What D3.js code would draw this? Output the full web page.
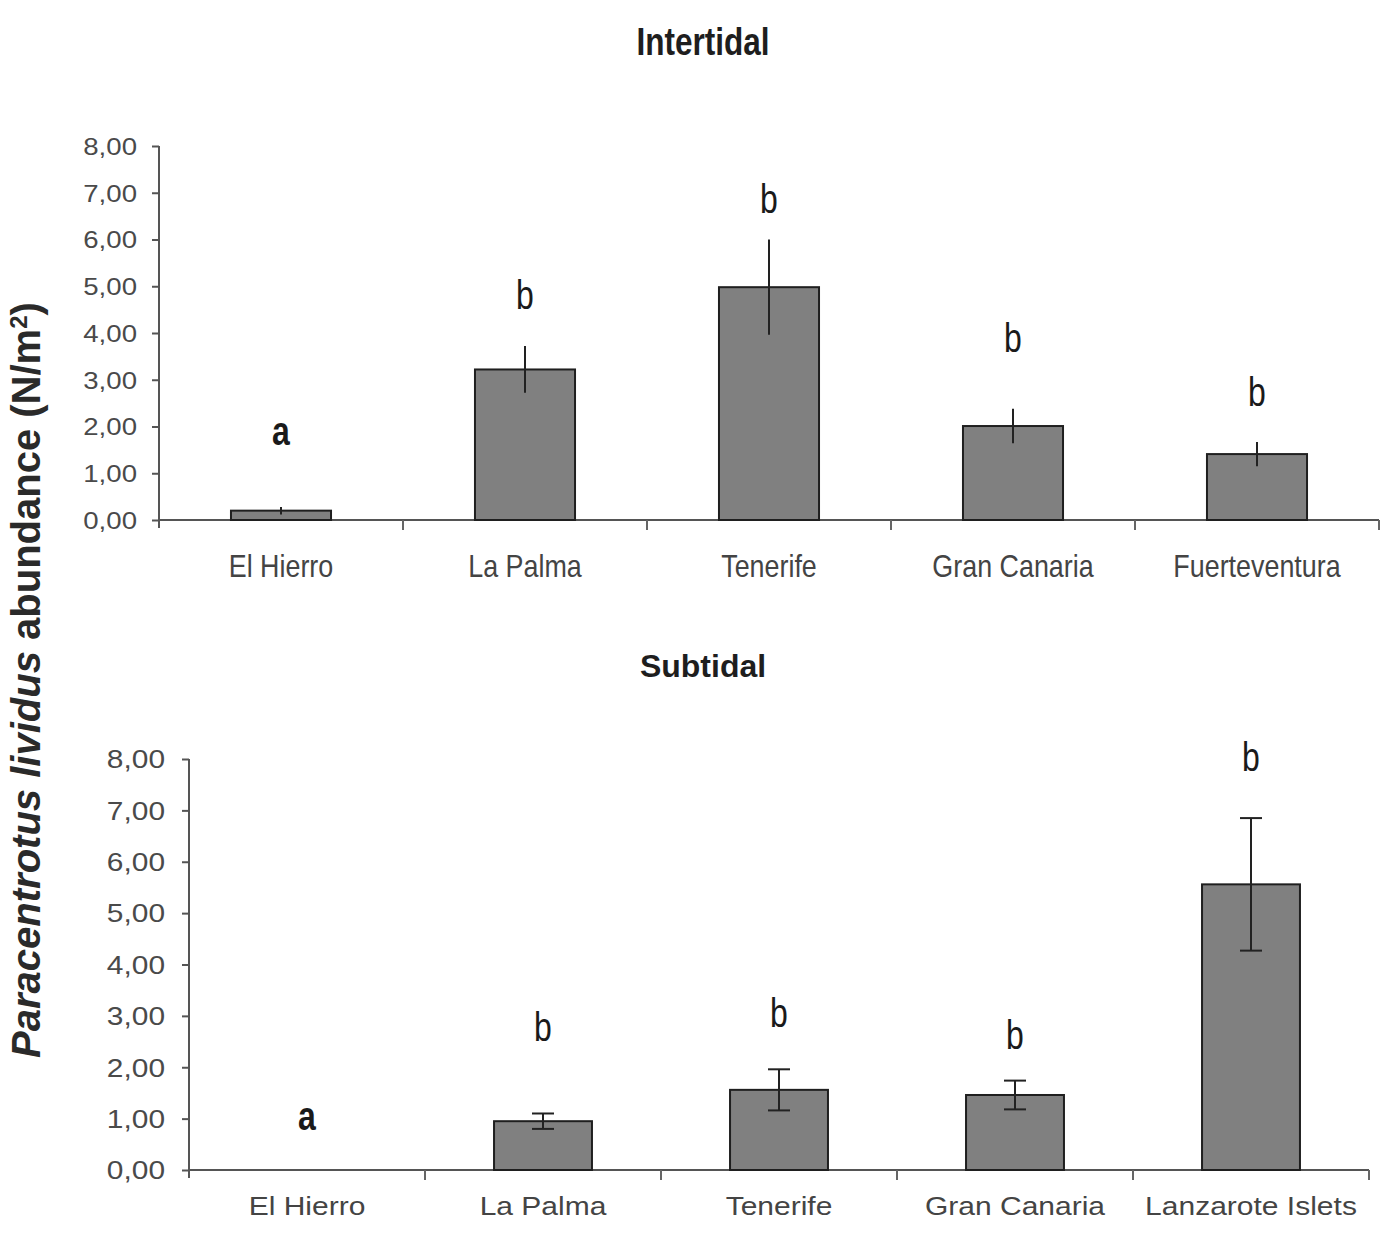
<!DOCTYPE html>
<html>
<head>
<meta charset="utf-8">
<script src="https://cdn.jsdelivr.net/npm/d3@7/dist/d3.min.js"></script>
<style>
  html, body { margin: 0; padding: 0; background: #fff; }
  svg { display: block; }
  text { font-family: "Liberation Sans", Arial, sans-serif; }
</style>
</head>
<body>
<svg id="chart" width="1400" height="1243"></svg>
<script>
// ---------- DATA ----------
const intertidalIslands = ["El Hierro", "La Palma", "Tenerife", "Gran Canaria", "Fuerteventura"];
const intertidalMeans   = [0.20, 3.22, 4.98, 2.01, 1.41];
const intertidalSE      = [0.08, 0.50, 1.02, 0.37, 0.26];
const intertidalLetters = ["a", "b", "b", "b", "b"];
const intertidalLetterLevels = [1.89, 4.80, 6.87, 3.88, 2.73];

const subtidalIslands = ["El Hierro", "La Palma", "Tenerife", "Gran Canaria", "Lanzarote Islets"];
const subtidalMeans   = [0, 0.95, 1.56, 1.46, 5.56];
const subtidalSE      = [0, 0.15, 0.40, 0.28, 1.29];
const subtidalLetters = ["a", "b", "b", "b", "b"];
const subtidalLetterLevels = [1.04, 2.78, 3.05, 2.63, 8.04];

const yTickValues = [0, 1, 2, 3, 4, 5, 6, 7, 8];
const panelTitles = ["Intertidal", "Subtidal"];
const yAxisTitle = { italic: "Paracentrotus lividus", rest: " abundance (N/m", sup: "2", close: ")" };

// ---------- LAYOUT ----------
const panels = [
  {
    title: panelTitles[0], islands: intertidalIslands, means: intertidalMeans, se: intertidalSE,
    letters: intertidalLetters, letterLevels: intertidalLetterLevels,
    x0: 159, x1: 1379, yTop: 146, yBase: 520, barFrac: 0.41, caps: false,
    titleY: 55, titleSize: 38, titleSX: 0.83,
    tickSize: 24, tickSX: 1.15, tickGap: 22,
    labelSize: 32, labelSX: 0.84, labelY: 577
  },
  {
    title: panelTitles[1], islands: subtidalIslands, means: subtidalMeans, se: subtidalSE,
    letters: subtidalLetters, letterLevels: subtidalLetterLevels,
    x0: 189, x1: 1369, yTop: 759, yBase: 1170, barFrac: 0.415, caps: true,
    titleY: 677, titleSize: 32, titleSX: 1.0,
    tickSize: 26, tickSX: 1.15, tickGap: 24,
    labelSize: 25, labelSX: 1.2, labelY: 1215
  }
];

const svg = d3.select("#chart");
const fmt = v => d3.format(".2f")(v).replace(".", ",");

panels.forEach(p => {
  const g = svg.append("g");
  const x = d3.scaleBand().domain(p.islands).range([p.x0, p.x1]).padding(0);
  const y = d3.scaleLinear().domain([0, 8]).range([p.yBase, p.yTop]);
  const cx = d => x(d) + x.bandwidth() / 2;

  // title
  g.append("text")
    .attr("transform", `translate(${(p.x0 + p.x1) / 2 + (p.caps ? -76 : -66)},${p.titleY}) scale(${p.titleSX},1)`)
    .attr("text-anchor", "middle")
    .attr("font-weight", "bold")
    .attr("font-size", p.titleSize)
    .attr("fill", "#1e1e1e")
    .text(p.title);

  // y axis
  const yAxis = d3.axisLeft(y).tickValues(yTickValues).tickSize(7).tickFormat(fmt);
  const ya = g.append("g").attr("transform", `translate(${p.x0},0)`).call(yAxis);
  ya.select(".domain").attr("stroke", "#555").attr("stroke-width", 2)
    .attr("d", `M0,${p.yTop}V${p.yBase + 8}`);
  ya.selectAll(".tick line").attr("stroke", "#555").attr("stroke-width", 2);
  ya.selectAll(".tick text")
    .attr("x", null).attr("dy", null)
    .attr("transform", `translate(${-p.tickGap},0) scale(${p.tickSX},1)`)
    .attr("dominant-baseline", "central")
    .attr("font-size", p.tickSize)
    .attr("font-family", "'Liberation Sans', Arial, sans-serif")
    .attr("fill", "#4a4a4a");

  // x axis (category boundary ticks)
  const bounds = p.islands.map(d => x(d)).concat([p.x1]);
  g.append("line")
    .attr("x1", p.x0).attr("x2", p.x1)
    .attr("y1", p.yBase).attr("y2", p.yBase)
    .attr("stroke", "#555").attr("stroke-width", 2);
  g.selectAll(".xtick").data(bounds.slice(1)).join("line")
    .attr("x1", d => d).attr("x2", d => d)
    .attr("y1", p.yBase).attr("y2", p.yBase + 10)
    .attr("stroke", "#666").attr("stroke-width", 2);

  // category labels
  g.selectAll(".xlabel").data(p.islands).join("text")
    .attr("transform", d => `translate(${cx(d)},${p.labelY}) scale(${p.labelSX},1)`)
    .attr("text-anchor", "middle")
    .attr("font-size", p.labelSize)
    .attr("fill", "#444")
    .text(d => d);

  // bars
  const bw = x.bandwidth() * p.barFrac;
  const rows = p.islands.map((d, i) => ({ k: d, m: p.means[i], s: p.se[i], l: p.letters[i], ll: p.letterLevels[i] }));
  g.selectAll(".bar").data(rows.filter(r => r.m > 0)).join("rect")
    .attr("x", r => cx(r.k) - bw / 2)
    .attr("y", r => y(r.m))
    .attr("width", bw)
    .attr("height", r => y(0) - y(r.m))
    .attr("fill", "#808080")
    .attr("stroke", "#1f1f1f")
    .attr("stroke-width", 2);

  // error bars
  const eb = rows.filter(r => r.s > 0);
  g.selectAll(".err").data(eb).join("line")
    .attr("x1", r => cx(r.k)).attr("x2", r => cx(r.k))
    .attr("y1", r => y(r.m + r.s)).attr("y2", r => y(Math.max(0, r.m - r.s)))
    .attr("stroke", "#222").attr("stroke-width", 2);
  if (p.caps) {
    [1, -1].forEach(sg => {
      g.selectAll(".cap" + sg).data(eb).join("line")
        .attr("x1", r => cx(r.k) - 11).attr("x2", r => cx(r.k) + 11)
        .attr("y1", r => y(r.m + sg * r.s)).attr("y2", r => y(r.m + sg * r.s))
        .attr("stroke", "#222").attr("stroke-width", 2);
    });
  }

  // significance letters
  g.selectAll(".letter").data(rows).join("text")
    .attr("transform", r => `translate(${cx(r.k)},${y(r.ll)}) scale(0.8,1)`)
    .attr("text-anchor", "middle")
    .attr("dominant-baseline", "central")
    .attr("font-size", 40)
    .attr("font-weight", r => r.l === "a" ? "bold" : "normal")
    .attr("fill", "#1a1a1a")
    .text(r => r.l);
});

// shared y-axis title
const yt = svg.append("text")
  .attr("transform", "translate(40,680) rotate(-90)")
  .attr("text-anchor", "middle")
  .attr("font-weight", "bold")
  .attr("font-size", 40)
  .attr("fill", "#2a2a2a");
yt.append("tspan").attr("font-style", "italic").text(yAxisTitle.italic);
yt.append("tspan").text(yAxisTitle.rest);
yt.append("tspan").attr("font-size", 24).attr("dy", -13).text(yAxisTitle.sup);
yt.append("tspan").attr("dy", 13).text(yAxisTitle.close);
</script>
</body>
</html>
